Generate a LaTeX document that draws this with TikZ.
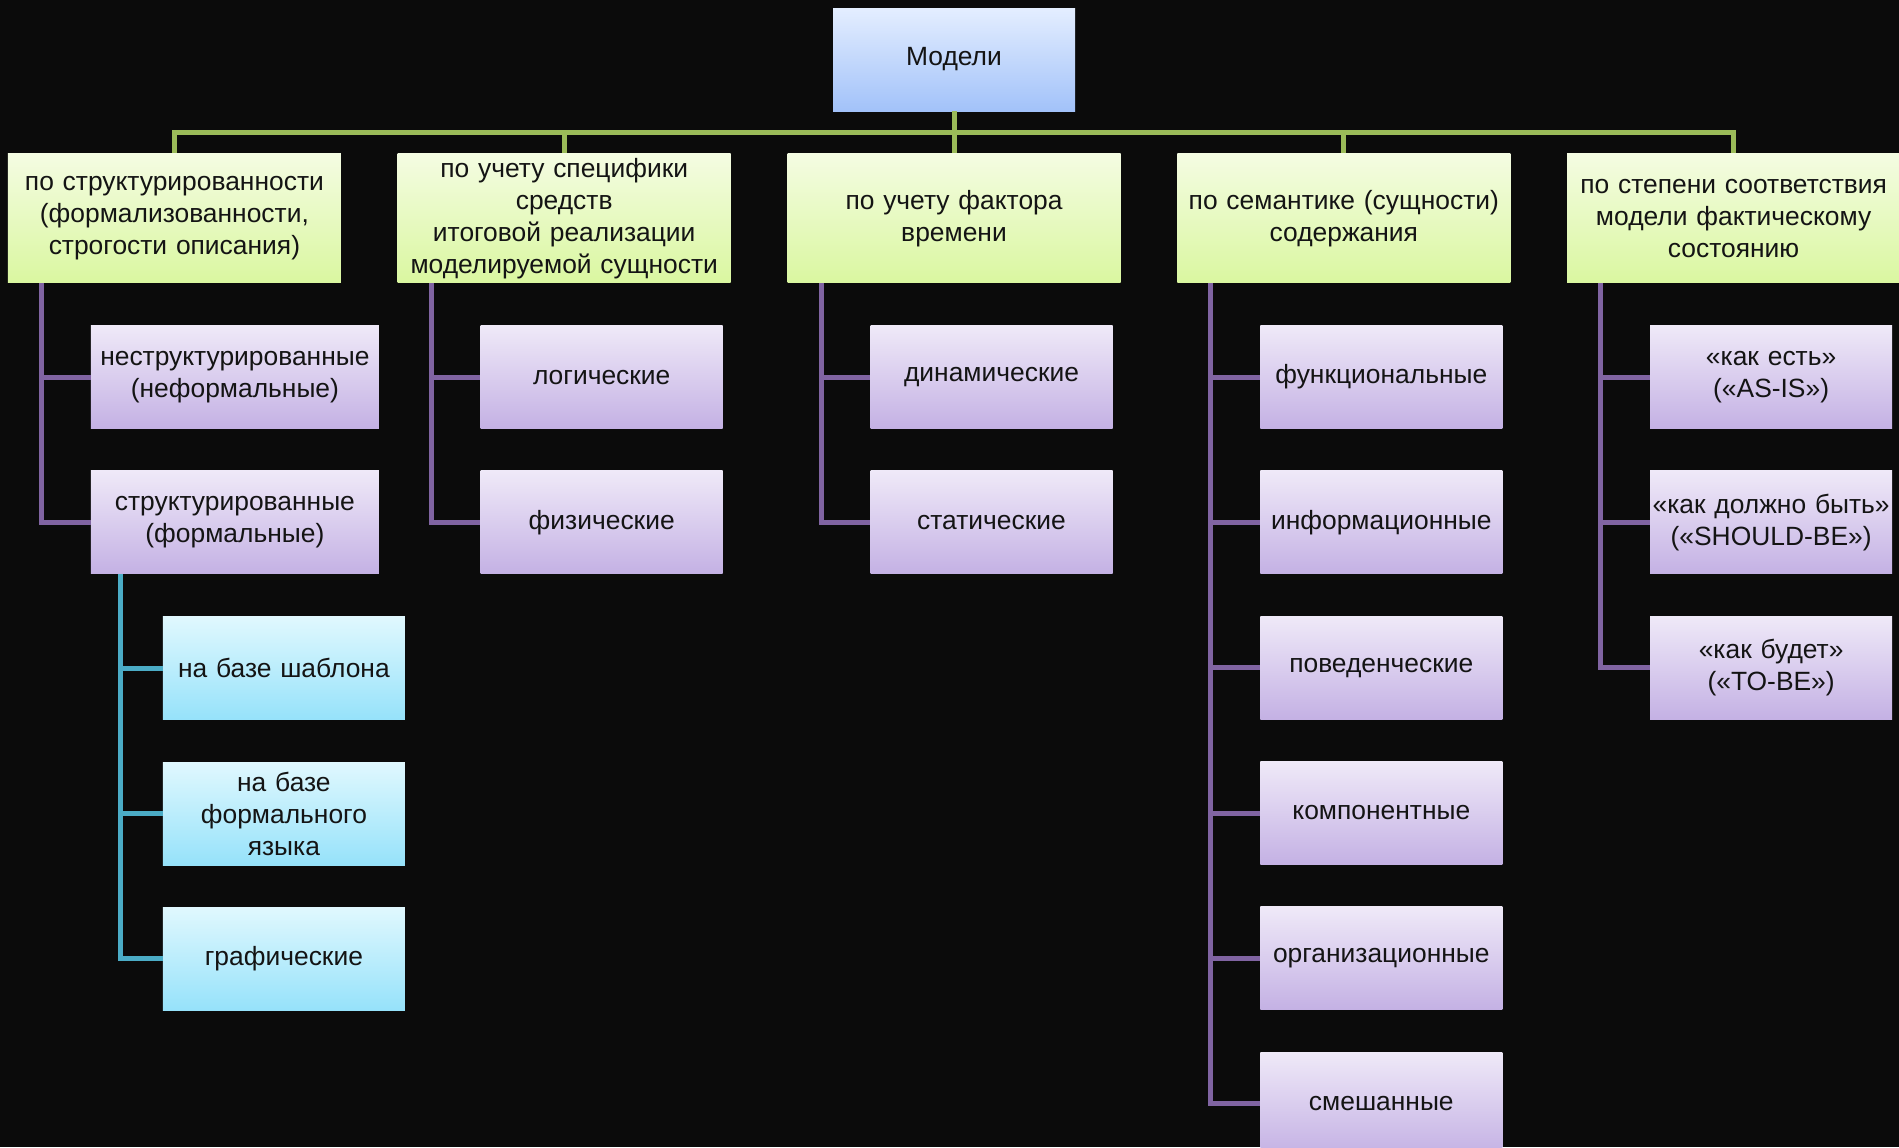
\documentclass[tikz,border=0pt]{standalone}
\usepackage{fontspec}
\setmainfont{Liberation Sans}
\usepackage{tikz}
\usetikzlibrary{positioning,calc}
\definecolor{board}{HTML}{0B0B0B}
\definecolor{ink}{HTML}{141414}
\definecolor{rootT}{HTML}{E4EEFF}
\definecolor{rootB}{HTML}{A2C2F9}
\definecolor{grpT}{HTML}{F4FCE2}
\definecolor{grpB}{HTML}{DAF7A0}
\definecolor{kindT}{HTML}{EFE9F8}
\definecolor{kindB}{HTML}{C4B1E4}
\definecolor{subT}{HTML}{E0F8FE}
\definecolor{subB}{HTML}{96E2FA}
\definecolor{olive}{HTML}{9BBB59}
\definecolor{violet}{HTML}{8064A2}
\definecolor{aqua}{HTML}{4BACC6}

\begin{document}
\begin{tikzpicture}[
  x=0.5pt,y=-0.5pt,
  box/.style={inner sep=0.5pt,align=center,text=ink,font=\fontsize{13.2}{16}\selectfont,minimum height=51.5pt},
  root/.style={box,top color=rootT,bottom color=rootB,minimum width=121pt},
  group/.style={box,top color=grpT,bottom color=grpB,minimum width=166.5pt,minimum height=64.5pt,text width=165pt},
  kind/.style={box,top color=kindT,bottom color=kindB,minimum width=121pt,text width=120pt},
  kindwide/.style={kind,minimum width=144pt,text width=143pt},
  sub/.style={box,top color=subT,bottom color=subB,minimum width=121pt,text width=120pt},
  trunk/.style={line width=2.5pt,draw=olive},
  branch/.style={line width=2.5pt,draw=violet},
  subbranch/.style={line width=2.5pt,draw=aqua}
]
  \fill[board] (0,0) rectangle (1899,1147);
  \useasboundingbox (0,0) rectangle (1899,1147);

  \node[root] (root) at (954,59.5) {Модели};

  % first level
  \node[group,below=21pt of root] (g3) {по учету фактора\\времени};
  \node[group,left=28pt of g3] (g2) {по учету специфики\\средств\\итоговой реализации\\моделируемой сущности};
  \node[group,left=28pt of g2] (g1) {по структурированности\\(формализованности,\\строгости описания)};
  \node[group,right=28pt of g3] (g4) {по семантике (сущности)\\содержания};
  \node[group,right=28pt of g4] (g5) {по степени соответствия\\модели фактическому\\состоянию};

  \foreach \g in {g1,g2,g3,g4,g5}
    \draw[trunk] (root.south) -- ++(0,21) -| (\g.north);

  % structure
  \node[kindwide,anchor=north west] (k11) at ([xshift=41.5pt,yshift=-21pt]g1.south west) {неструктурированные\\(неформальные)};
  \node[kindwide,below=20.75pt of k11] (k12) {структурированные\\(формальные)};
  \node[sub,anchor=north west] (s1) at ([xshift=36pt,yshift=-21pt]k12.south west) {на базе шаблона};
  \node[sub,below=20.75pt of s1] (s2) {на базе\\формального\\языка};
  \node[sub,below=20.75pt of s2] (s3) {графические};

  % realisation
  \node[kind,anchor=north west] (k21) at ([xshift=41.5pt,yshift=-21pt]g2.south west) {логические};
  \node[kind,below=20.75pt of k21] (k22) {физические};

  % time
  \node[kind,anchor=north west] (k31) at ([xshift=41.5pt,yshift=-21pt]g3.south west) {динамические};
  \node[kind,below=20.75pt of k31] (k32) {статические};

  % semantics
  \node[kind,anchor=north west] (k41) at ([xshift=41.5pt,yshift=-21pt]g4.south west) {функциональные};
  \node[kind,below=20.75pt of k41] (k42) {информационные};
  \node[kind,below=20.75pt of k42] (k43) {поведенческие};
  \node[kind,below=20.75pt of k43] (k44) {компонентные};
  \node[kind,below=20.75pt of k44] (k45) {организационные};
  \node[kind,below=20.75pt of k45] (k46) {смешанные};

  % conformity
  \node[kind,anchor=north west] (k51) at ([xshift=41.5pt,yshift=-21pt]g5.south west) {«как есть»\\(«AS-IS»)};
  \node[kind,below=20.75pt of k51] (k52) {«как должно быть»\\(«SHOULD-BE»)};
  \node[kind,below=20.75pt of k52] (k53) {«как будет»\\(«TO-BE»)};

  \foreach \i in {1,2}
    \draw[branch] ([xshift=17pt]g1.south west) |- (k1\i.west);
  \foreach \i in {1,2}
    \draw[branch] ([xshift=17pt]g2.south west) |- (k2\i.west);
  \foreach \i in {1,2}
    \draw[branch] ([xshift=17pt]g3.south west) |- (k3\i.west);
  \foreach \i in {1,...,6}
    \draw[branch] ([xshift=17pt]g4.south west) |- (k4\i.west);
  \foreach \i in {1,2,3}
    \draw[branch] ([xshift=17pt]g5.south west) |- (k5\i.west);
  \foreach \i in {1,2,3}
    \draw[subbranch] ([xshift=15pt]k12.south west) |- (s\i.west);
\end{tikzpicture}
\end{document}
